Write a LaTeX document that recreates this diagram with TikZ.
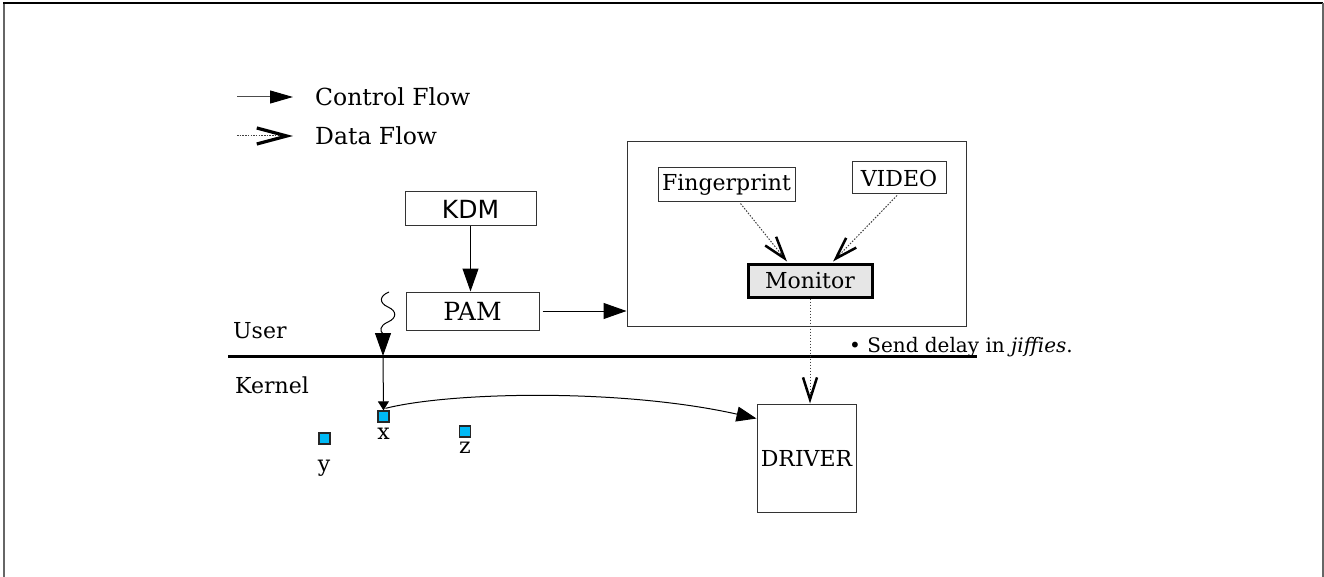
\documentclass[tikz,border=0pt]{standalone}
\usepackage{fontspec}
\setmainfont{DejaVu Serif}
\newfontfamily\kdmfont{DejaVu Sans}
\usetikzlibrary{arrows.meta,calc}
\definecolor{sq}{RGB}{0,185,245}
\definecolor{mongray}{RGB}{230,230,230}
\tikzset{
  box/.style={draw=black!80, line width=1pt, rectangle, inner sep=0pt, font=\fontsize{22}{26}\selectfont},
  sqnode/.style={draw=black!85, line width=1.3pt, fill=sq, minimum width=11pt, minimum height=11pt, inner sep=0pt},
  lbl/.style={inner sep=0pt, font=\fontsize{22}{26}\selectfont},
  ctrl/.style={line width=1pt, -{Triangle[length=23pt,width=16pt]}},
  dataflow/.style={line width=1pt, black!75, dash pattern=on 1.5pt off 1.5pt, -{Straight Barb[length=22pt,width=14pt,line width=2.5pt,black]}},
}
\begin{document}
\begin{tikzpicture}[x=1pt,y=-1pt]
\useasboundingbox (0,0) rectangle (1324,577);
% frame
\draw[black!60, line width=2pt] (4,577) -- (4,3);
\draw[black, line width=2pt] (3,3) -- (1323,3);
\draw[black!60, line width=2pt] (1323,3) -- (1323,577);

% legend
\coordinate (c1) at (237,97);
\coordinate (c2) at (293,97);
\draw[line width=1pt, black!70, -{Triangle[length=23pt,width=13pt,black]}] (c1) -- (c2);
\node[lbl, anchor=west, font=\fontsize{23.5}{28}\selectfont] (ctl) at (315,97) {Control Flow};
\coordinate (d1) at (237,136);
\coordinate (d2) at (293,136);
\draw[line width=1pt, black!75, dash pattern=on 1.5pt off 1.2pt, -{Straight Barb[length=30pt,width=16pt,line width=3.2pt,black]}] (d1) -- (d2);
\node[lbl, anchor=west, font=\fontsize{23.5}{28}\selectfont] (dtl) at (315,136) {Data Flow};

% boxes
\node[box, minimum width=131pt, minimum height=34pt] (kdm) at (470.5,209) {\kdmfont\fontsize{25}{28}\selectfont KDM};
\node[box, minimum width=133pt, minimum height=38pt, font=\fontsize{25}{28}\selectfont] (pam) at (472.5,311) {PAM};
\node[box, minimum width=339pt, minimum height=184pt] (big) at (796.5,234) {};
\node[box, minimum width=137pt, minimum height=34pt] (fp) at (726.5,185) {Fingerprint};
\node[box, minimum width=94pt, minimum height=32pt] (video) at (899,178) {VIDEO};
\node[box, line width=3pt, draw=black, fill=mongray, minimum width=124pt, minimum height=33pt] (mon) at (810,280.5) {Monitor};
\node[box, minimum width=99pt, minimum height=108pt] (driver) at (806.5,458) {DRIVER};

% user/kernel
\draw[line width=3pt] (228,356) -- (977,356);
\node[lbl, anchor=base west] (user) at (233,338) {User};
\node[lbl, anchor=base west] (kernel) at (235,393) {Kernel};
\node[inner sep=0pt, anchor=base west, font=\fontsize{20}{24}\selectfont] (note) at (849,352) {\textbullet\ Send delay in \textit{jiffies}.};

% squares
\node[sqnode] (sqx) at (383.5,416.5) {};
\node[sqnode] (sqy) at (324.5,438.5) {};
\node[sqnode] (sqz) at (465,431.5) {};
\node[lbl, anchor=base] (lx) at (383.5,439) {x};
\node[lbl, anchor=base] (ly) at (324,471) {y};
\node[lbl, anchor=base] (lz) at (465,453) {z};

% connectors
\draw[ctrl] (kdm.south) -- (kdm.south |- pam.north);
\draw[ctrl] (pam.east) ++(3,0) coordinate (pe) -- (pe -| big.west);
\draw[dataflow] ($(fp.south)+(14,1)$) -- ($(mon.north)+(-23,-1)$);
\draw[dataflow] ($(video.south)+(-2,1)$) -- ($(mon.north)+(23,-1)$);
\draw[dataflow] (mon.south) -- (mon.south |- driver.north);

\coordinate (cross) at (383,356);
\coordinate (wstart) at (389,292);
\draw[line width=1pt, -{Triangle[length=23pt,width=16pt]}] (wstart) .. controls (379,296) and (379,303) .. (388,307) .. controls (397,311) and (397,318) .. (388,322) .. controls (379,326) and (380,331) .. (383,334) -- (cross);
\draw[line width=1pt, -{Triangle[length=9pt,width=11pt]}] (cross) -- (sqx.north);
\draw[line width=1pt, -{Triangle[length=20pt,width=15pt]}] ($(sqx.north)+(2,-2)$) .. controls (450,392) and (620,388) .. ($(driver.north west)+(0,15)$);
\end{tikzpicture}
\end{document}
